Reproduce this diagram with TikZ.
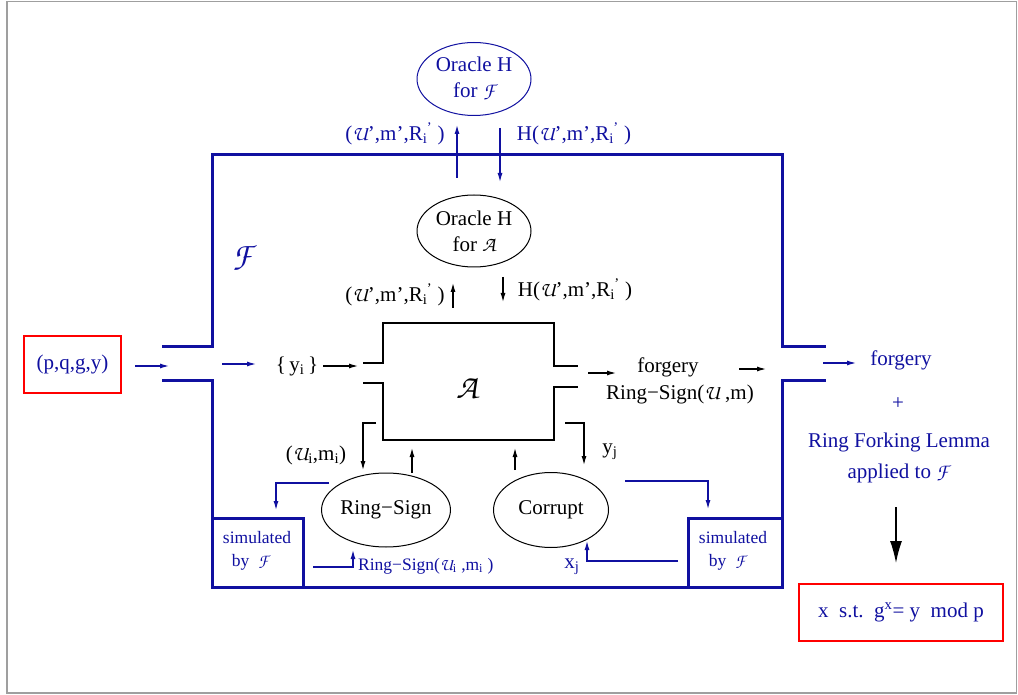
\documentclass[tikz,border=0pt]{standalone}
\usepackage[T1,TU]{fontenc}
\usepackage{fontspec}
\setmainfont{Liberation Serif}
\usetikzlibrary{arrows.meta,shapes.geometric}
\definecolor{fblue}{RGB}{16,16,160}
\newcommand{\zc}[1]{{\usefont{T1}{pzc}{mb}{it}#1}}
\newcommand{\cU}{\zc{U}}
\newcommand{\cF}{\zc{F}}
\newcommand{\Rip}{R\textsubscript{i}\kern-0.5pt\textsuperscript{'}}
\begin{document}
\begin{tikzpicture}[x=1pt,y=-1pt,
  lbl/.style={font=\fontsize{21}{26}\selectfont, inner sep=0pt, align=center},
  sml/.style={font=\fontsize{17.5}{24}\selectfont, inner sep=0pt, align=center},
  ell/.style={ellipse, draw, line width=1pt, inner sep=0pt, font=\fontsize{21}{26}\selectfont, align=center},
  arr/.style={-{Latex[length=9pt,width=5pt]}, line width=1.1pt},
  barr/.style={arr, draw=fblue},
  thick blue/.style={draw=fblue, line width=3pt},
  simbox/.style={draw=fblue, line width=3pt, anchor=north west, inner sep=0pt, outer sep=0pt},
  redbox/.style={draw=red, line width=1.2pt, inner sep=0pt, text=fblue, font=\fontsize{21}{26}\selectfont}]
\useasboundingbox (0,0) rectangle (1018,695);
\draw[gray!75, line width=1.6pt] (7,1.5) rectangle (1016.5,693);

% F boundary
\draw[thick blue] (162,346) -- (212,346) -- (212,155) -- (782,155) -- (782,346) -- (826,346);
\draw[thick blue] (162,380) -- (212,380) -- (212,587) -- (782,587) -- (782,380) -- (826,380);
\node[simbox, minimum width=91, minimum height=69] (simL) at (212,518) {};
\node[simbox, minimum width=94, minimum height=69] (simR) at (688,518) {};
\node[sml, text=fblue] (simLa) at (257,538) {simulated};
\node[sml, text=fblue] (simLb) at (250,562) {by\ \ \cF};
\node[sml, text=fblue] (simRa) at (733,538) {simulated};
\node[sml, text=fblue] (simRb) at (727,562) {by\ \ \cF};
\node[text=fblue, inner sep=0pt, font=\fontsize{34}{34}\selectfont] (Flab) at (242,258) {\cF};

% A box
\draw[line width=2.8pt] (363,363) -- (383,363) -- (383,323) -- (554,323) -- (554,366) -- (578,366);
\draw[line width=2.8pt] (363,383) -- (383,383) -- (383,440) -- (554,440) -- (554,387) -- (578,387);
\node[inner sep=0pt, font=\fontsize{34}{34}\selectfont] (Alab) at (467,388) {\zc{A}};

% input
\node[redbox, minimum width=97, minimum height=57] (pqgy) at (72.5,364.5) {(p,q,g,y)};
\coordinate (i1s) at (135,366); \coordinate (i1e) at (169,366);
\draw[barr] (i1s) -- (i1e);
\coordinate (i2s) at (222,364); \coordinate (i2e) at (256,364);
\draw[barr] (i2s) -- (i2e);
\node[lbl] (yi) at (297,366) {\{\,y\textsubscript{i}\,\}};
\coordinate (i3s) at (323,366); \coordinate (i3e) at (358,366);
\draw[arr] (i3s) -- (i3e);

% output
\coordinate (o1s) at (588,373); \coordinate (o1e) at (616,373);
\draw[arr] (o1s) -- (o1e);
\node[lbl] (forg) at (668,367) {forgery};
\node[lbl] (rsum) at (680,394) {Ring−Sign(\cU\ ,m)};
\coordinate (o2s) at (739,369); \coordinate (o2e) at (766,369);
\draw[arr] (o2s) -- (o2e);
\coordinate (o3s) at (823,363); \coordinate (o3e) at (856,363);
\draw[barr] (o3s) -- (o3e);
\node[lbl, text=fblue] (forgB) at (901,360) {forgery};
\node[lbl, text=fblue] (plus) at (898,404) {+};
\node[lbl, text=fblue] (rfl) at (899,442) {Ring Forking Lemma};
\node[lbl, text=fblue] (appl) at (898,473) {applied to \cF};
\coordinate (bigS) at (896,507);
\coordinate (bigE) at (896,563);
\draw[-{Latex[length=22pt,width=12pt]}, line width=1.3pt] (bigS) -- (bigE);
\node[redbox, minimum width=204, minimum height=57] (res) at (901,612.5) {x\ \ s.t.\ \ g\textsuperscript{x}= y\ \ mod p};

% Oracles
\node[ell, draw=fblue, text=fblue, minimum width=114, minimum height=73] (ohf) at (474,79) {Oracle H\\for \cF};
\node[ell, minimum width=114, minimum height=72] (oha) at (474,231) {Oracle H\\for \zc{A}};
\node[lbl, text=fblue] (q1) at (395,134) {(\cU',m',\Rip\ )};
\node[lbl, text=fblue] (h1) at (574,134) {H(\cU',m',\Rip\ )};
\draw[barr] (457,178) -- (457,125);
\draw[barr] (500,128) -- (500,182);
\node[lbl] (q2) at (395,295) {(\cU',m',\Rip\ )};
\node[lbl] (h2) at (575,290) {H(\cU',m',\Rip\ )};
\draw[arr] (453,308) -- (453,283);
\draw[arr] (503,277) -- (503,302);

% Ring-Sign and Corrupt
\node[ell, minimum width=114, minimum height=74] (rs) at (386,510) {Ring−Sign};
\node[ell, minimum width=115, minimum height=75] (cor) at (551,510) {Corrupt};
\node[lbl] (uimi) at (316,455) {(\cU\textsubscript{i},m\textsubscript{i})};
\draw[arr] (376,423) -- (363,423) -- (363,470);
\draw[arr] (412,473) -- (412,448);
\draw[arr] (515,470) -- (515,448);
\draw[arr] (565,423) -- (584,423) -- (584,465);
\node[lbl] (yj) at (610,452) {y\textsubscript{j}};

\draw[barr] (329,483) -- (276,483) -- (276,510);
\draw[barr] (313,567) -- (353,567) -- (353,550);
\node[sml, text=fblue, anchor=west] (rsl) at (358,566) {Ring−Sign(\cU\textsubscript{i} ,m\textsubscript{i} )};
\draw[barr] (625,481) -- (708,481) -- (708,509);
\draw[barr] (678,561) -- (587,561) -- (587,541);
\node[lbl, text=fblue] (xj) at (572,567) {x\textsubscript{j}};
\end{tikzpicture}
\end{document}
